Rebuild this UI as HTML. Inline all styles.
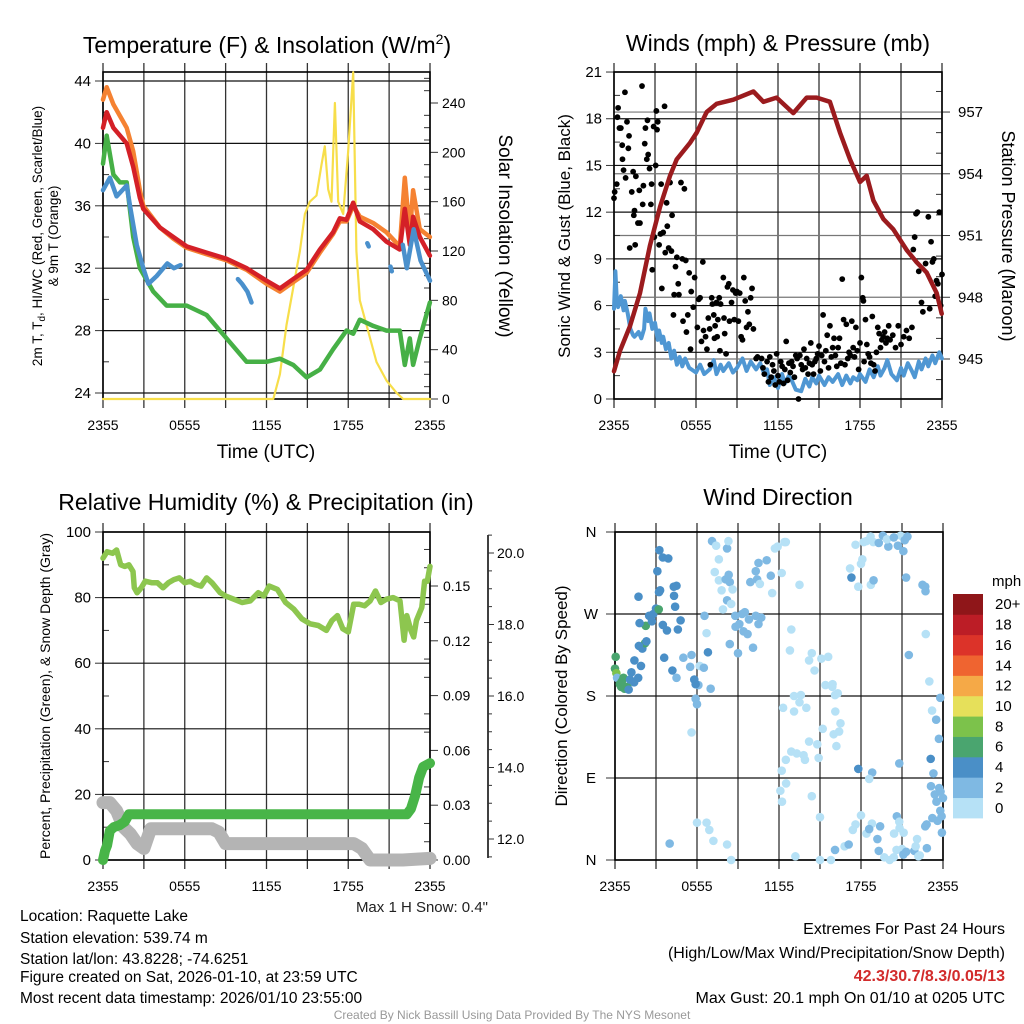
<!DOCTYPE html>
<html><head><meta charset="utf-8">
<style>
html,body{margin:0;padding:0;background:#fff;}
svg{display:block;font-family:"Liberation Sans",Arial,sans-serif;}
</style></head>
<body>
<svg id="fig" xmlns="http://www.w3.org/2000/svg" width="1024" height="1024" viewBox="0 0 1024 1024">
<rect x="0" y="0" width="1024" height="1024" fill="#fff"/>
<g id="p1"></g>
<g id="p2"></g>
<g id="p3"></g>
<g id="p4"></g>

<text x="267" y="53" text-anchor="middle" font-size="23">Temperature (F) &amp; Insolation (W/m<tspan dy="-9" font-size="14">2</tspan><tspan dy="9">)</tspan></text>
<text x="778" y="51" text-anchor="middle" font-size="23">Winds (mph) &amp; Pressure (mb)</text>
<text x="266" y="510" text-anchor="middle" font-size="23">Relative Humidity (%) &amp; Precipitation (in)</text>
<text x="778" y="505" text-anchor="middle" font-size="23">Wind Direction</text>

<text x="266" y="458" text-anchor="middle" font-size="19">Time (UTC)</text>
<text x="778" y="458" text-anchor="middle" font-size="19">Time (UTC)</text>

<text transform="translate(42,236) rotate(-90)" text-anchor="middle" font-size="13.5">2m T, T<tspan dy="3" font-size="10">d</tspan><tspan dy="-3">, HI/WC (Red, Green, Scarlet/Blue)</tspan></text>
<text transform="translate(58,236) rotate(-90)" text-anchor="middle" font-size="13.5">&amp; 9m T (Orange)</text>
<text transform="translate(499,236) rotate(90)" text-anchor="middle" font-size="19">Solar Insolation (Yellow)</text>
<text transform="translate(570,236) rotate(-90)" text-anchor="middle" font-size="17">Sonic Wind &amp; Gust (Blue, Black)</text>
<text transform="translate(1002,236) rotate(90)" text-anchor="middle" font-size="18">Station Pressure (Maroon)</text>
<text transform="translate(50,696) rotate(-90)" text-anchor="middle" font-size="14">Percent, Precipitation (Green), &amp; Snow Depth (Gray)</text>
<text transform="translate(567,696) rotate(-90)" text-anchor="middle" font-size="17">Direction (Colored By Speed)</text>

<text x="488" y="912" text-anchor="end" font-size="15" fill="#222">Max 1 H Snow: 0.4"</text>

<g font-size="15.5">
<text x="20" y="921">Location: Raquette Lake</text>
<text x="20" y="943">Station elevation: 539.74 m</text>
<text x="20" y="964">Station lat/lon: 43.8228; -74.6251</text>
<text x="20" y="982">Figure created on Sat, 2026-01-10, at 23:59 UTC</text>
<text x="20" y="1003">Most recent data timestamp: 2026/01/10 23:55:00</text>
</g>
<g font-size="16" text-anchor="end">
<text x="1005" y="934">Extremes For Past 24 Hours</text>
<text x="1005" y="958">(High/Low/Max Wind/Precipitation/Snow Depth)</text>
<text x="1005" y="981" fill="#d22b2b" font-weight="bold">42.3/30.7/8.3/0.05/13</text>
<text x="1005" y="1003">Max Gust: 20.1 mph On 01/10 at 0205 UTC</text>
</g>
<text x="512" y="1019" text-anchor="middle" font-size="12" fill="#999">Created By Nick Bassill Using Data Provided By The NYS Mesonet</text>
</svg>

<script>
// ---------- DATA ----------
const timeLabels = ["2355","0555","1155","1755","2355"];
// Panel 1
const tempT = [0,0.27,0.76,1.74,2.22,2.71,2.96,4.18,5.16,6.14,7.6,9.07,10.54,12.0,12.98,13.96,14.94,15.92,16.89,17.38,17.87,18.36,18.85,19.83,20.81,21.78,22.15,22.52,22.76,23.25,23.99];
const temp2m = [41,42,41,40,38.5,36.5,35.8,34.6,34,33.4,33,32.6,32,31.2,30.7,31.3,31.9,33.2,34.3,35.2,35.1,36.2,35.0,34.5,33.7,33.2,35.8,33.5,35.3,34,32.8];
const temp9m = [42.8,43.6,42.5,41,39.5,37,36,34.6,33.9,33.3,32.9,32.5,31.9,31.0,30.5,31.1,31.7,33.0,34.2,35.0,35.0,36.0,35.3,34.9,34.3,33.4,37.8,34.2,37,34.5,34.0];
const dewT = [0,0.27,0.76,1.25,1.74,2.22,2.71,3.69,4.67,6.14,7.6,9.07,10.54,12.0,12.98,13.96,14.94,15.92,16.89,17.87,18.36,18.85,19.83,20.81,21.78,22.15,22.52,22.76,23.25,23.99];
const dewVals = [38.7,40.5,38,37.5,37.5,34,32,30.5,29.6,29.6,29,27.5,26,26,26.2,25.8,25,25.5,26.8,28,27.8,28.7,28.3,28,28,25.8,27.5,25.8,27.5,29.8];
const wcT = [0,0.51,1.0,1.74,1.98,2.47,2.96,3.33,3.94,4.72,5.2,5.69,6,9.9,10.2,10.6,10.9,11.2,19.4,19.5,19.6,21.1,21.2,21.3,22.0,22.3,22.8,23.3,24.0];
const wcVals = [37,37.8,36.6,37.3,36,33.5,32,31,31.5,32.3,32,32.2,null,31.3,31.0,30.5,29.8,null,33.6,33.4,null,32.1,31.8,null,33.5,32,34.5,32.5,31.2];
const solarT = [0,12.5,12.98,13.47,13.96,14.45,14.82,15.18,15.67,16.04,16.28,16.53,16.77,17.02,17.26,17.63,17.99,18.36,18.6,18.85,19.34,20.07,20.81,21.54,22.03,24];
const solarVals = [0,0,20,60,90,120,150,160,165,190,205,170,160,240,160,150,200,265,120,80,60,30,15,5,0,0];
const tempTicks = [24,28,32,36,40,44];
const solarTicks = [0,40,80,120,160,200,240];
// Panel 2
const presT = [0,0.44,1.17,1.9,2.63,3.37,4.1,4.59,5.56,6.05,6.78,7.51,8.73,10.2,10.93,11.9,13.12,14.1,14.83,15.8,16.54,17.27,18.0,18.49,18.98,19.71,20.44,21.41,22.15,22.88,23.61,23.98];
const presVals = [944.4,945.4,946.6,948.2,950.5,952.4,953.9,954.7,955.5,956.0,957.0,957.4,957.6,958.0,957.5,957.7,956.95,957.7,957.7,957.5,956.0,954.7,953.6,953.9,952.7,951.8,951.3,950.3,949.7,949.2,948.2,947.2];
const windT = [0,0.1,0.2,0.3,0.5,0.7,0.8,1.0,1.2,1.4,1.5,1.8,2.0,2.2,2.3,2.5,2.6,2.8,3.0,3.2,3.3,3.5,3.6,3.8,4.0,4.2,4.4,4.6,4.8,5.0,5.2,5.5,6.0,6.3,6.6,7.0,7.3,7.5,7.8,8.0,8.4,8.7,9.0,9.4,9.7,10.0,10.4,10.7,11.0,11.2,11.4,11.7,12.0,12.3,12.5,12.8,13.0,13.3,13.7,14.0,14.3,14.5,14.8,15.0,15.4,15.7,16.0,16.4,16.7,17.0,17.3,17.5,17.8,18.0,18.4,18.7,19.0,19.3,19.5,19.8,20.0,20.3,20.7,21.0,21.2,21.5,21.8,22.0,22.3,22.5,22.8,23.0,23.3,23.5,23.8,24.0];
const windVals = [5.8,8.2,6.5,5.9,6.6,5.7,6.3,5.5,4.5,4.1,4.0,4.3,3.9,4.5,5.8,5.0,5.5,4.5,4.9,3.8,4.4,3.6,4.0,3.2,3.6,2.6,3.1,2.2,2.7,2.1,2.6,2.0,1.7,2.2,1.6,1.9,2.5,1.6,2.2,1.8,2.3,1.7,2.0,2.6,1.8,2.4,1.9,2.3,1.6,1.9,0.9,1.4,0.7,1.6,1.0,1.5,1.2,0.6,0.5,1.3,0.8,1.4,1.0,1.5,0.9,1.4,1.1,1.6,0.9,1.5,1.0,1.4,1.2,1.6,1.1,1.9,1.4,2.1,1.5,2.0,2.5,1.6,1.2,2.0,1.5,2.3,1.8,1.4,2.4,1.9,2.6,2.1,2.8,2.3,3.0,2.6];
const gustT = [0,0.05,0.2,0.25,0.3,0.4,0.5,0.6,0.62,0.7,0.8,0.85,0.95,1.05,1.1,1.15,1.3,1.4,1.45,1.5,1.55,1.6,1.75,1.85,1.9,2.05,2.1,2.15,2.25,2.3,2.4,2.45,2.5,2.6,2.7,2.75,2.8,2.9,2.95,3.05,3.1,3.15,3.2,3.3,3.4,3.45,3.5,3.6,3.7,3.75,3.85,3.9,4.0,4.1,4.2,4.25,4.35,4.4,4.5,4.6,4.7,4.75,4.9,5.0,5.05,5.15,5.25,5.3,5.4,5.5,5.6,5.65,5.8,5.9,6.1,6.2,6.3,6.4,6.5,6.55,6.7,6.8,6.9,7.0,7.05,7.15,7.2,7.3,7.35,7.4,7.5,7.55,7.6,7.7,7.75,7.8,8.0,8.05,8.1,8.2,8.3,8.4,8.45,8.6,8.7,8.8,8.9,9.0,9.1,9.2,9.3,9.4,9.5,9.6,9.7,9.8,9.9,10.0,10.1,10.2,10.4,10.5,10.8,10.9,11.0,11.2,11.3,11.4,11.5,11.6,11.7,11.8,11.9,12.0,12.1,12.2,12.3,12.4,12.5,12.6,12.7,12.8,12.9,13.0,13.1,13.2,13.3,13.4,13.5,13.6,13.7,13.8,13.9,14.0,14.1,14.2,14.3,14.4,14.5,14.6,14.7,14.8,14.9,15.0,15.1,15.2,15.3,15.4,15.5,15.6,15.7,15.8,15.9,16.0,16.1,16.2,16.3,16.4,16.5,16.6,16.7,16.8,16.9,17.0,17.1,17.2,17.3,17.4,17.5,17.6,17.7,17.8,17.9,18.0,18.1,18.2,18.25,18.3,18.4,18.5,18.6,18.7,18.8,18.9,19.0,19.1,19.2,19.3,19.4,19.5,19.6,19.7,19.8,19.9,20.0,20.1,20.2,20.4,20.6,20.8,21.0,21.2,21.4,21.6,21.8,21.9,22.0,22.1,22.2,22.3,22.5,22.6,22.8,23.0,23.1,23.2,23.3,23.4,23.5,23.6,23.7,23.8,23.9,24.0];
const gustVals = [12.9,13.3,13.8,18.1,18.7,17.4,17.4,16.3,15.4,14.7,19.7,14.2,17.8,16.1,16.9,9.7,13.3,14.6,11.8,12.1,9.9,14.3,11.3,13.4,11.3,20.1,12.5,13.7,16.4,17.4,15.4,17.9,15.7,14.8,12.5,13.8,8.3,17.5,10.4,15.0,18.5,17.3,17.8,9.9,10.6,13.8,7.1,10.7,18.8,9.4,12.6,11.1,9.7,13.9,9.5,11.8,5.4,6.7,8.5,9.1,7.4,6.7,13.9,9.0,5.0,13.5,8.9,4.3,5.4,8.1,3.2,6.9,5.9,7.8,4.6,6.4,6.5,3.7,8.8,4.4,4.0,3.2,5.2,4.5,2.2,6.5,6.1,5.4,3.9,4.7,6.2,4.0,5.1,6.5,3.1,6.1,7.8,5.2,4.2,2.9,7.2,7.4,5.0,6.2,7.0,5.1,6.8,6.9,5.0,6.8,4.0,3.8,7.8,6.3,4.6,5.6,4.8,6.5,7.1,4.5,2.6,2.7,2.6,2.0,1.6,2.4,1.1,2.7,1.4,2.2,1.8,0.9,2.9,1.5,1.1,2.4,2.1,1.0,1.9,3.7,1.2,2.3,1.7,2.4,2.1,1.4,2.8,2.6,0.0,2.8,2.2,1.9,3.2,2.0,2.6,1.6,2.3,3.6,2.2,1.6,2.4,2.6,2.9,3.4,1.8,2.8,5.4,2.4,3.1,4.1,2.0,4.7,2.7,3.3,3.9,2.8,2.1,3.3,3.9,2.3,7.7,5.1,2.2,4.8,2.6,3.0,2.8,5.0,3.3,2.7,4.6,3.1,1.9,3.6,7.8,6.5,6.3,2.4,5.1,3.5,2.9,2.7,2.3,5.3,2.2,1.8,3.0,4.6,4.2,3.3,3.8,4.0,4.3,3.6,3.9,4.7,3.8,4.1,3.3,4.7,3.5,4.0,4.4,3.9,4.6,9.6,10.4,11.9,12.0,8.2,6.2,5.6,8.7,11.7,5.8,10.1,8.8,9.0,6.6,7.6,7.4,12.0,6.0,8.0];
const windTicks = [0,3,6,9,12,15,18,21];
const presTicks = [945,948,951,954,957];
// Panel 3
const rhT = [0,0.3,0.7,1.0,1.3,1.6,1.9,2.2,2.3,2.5,2.8,3.1,3.6,4.0,4.4,4.8,5.2,5.6,6.0,6.4,6.8,7.2,7.6,8.0,8.6,9.0,9.6,10.2,10.8,11.4,11.8,12.2,12.8,13.4,14.0,14.6,15.2,15.8,16.4,16.8,17.2,17.6,18.0,18.4,18.8,19.2,19.6,20.0,20.4,20.8,21.3,21.8,22.1,22.3,22.6,22.8,23.0,23.4,23.6,23.8,24.0];
const rhVals = [92,94,93.5,94.5,90,89.5,90,88,83,81.5,83,85,84.5,84.5,83,84.5,85.5,86,84.5,85,84,83.5,86,84.5,81.5,80.5,79.5,78.5,79,81.5,80.5,83.5,82.5,78.5,76.5,73.5,72,71.5,70,73,74.5,70.5,69.5,78,78,77.5,79,82,78.5,79.5,80,79,67,74.5,70,68,73,77,85,85,89.5];
const precipT = [0,0.15,0.3,0.5,0.8,1.2,1.6,1.9,22.3,22.6,22.9,23.2,23.5,24.0];
const precipVals = [0,0.005,0.008,0.016,0.018,0.019,0.021,0.025,0.025,0.028,0.035,0.045,0.051,0.053];
const snowT = [0,0.5,1.0,1.5,2.0,2.5,3.0,3.5,4.0,8.0,8.5,9.0,9.5,18.4,19.0,19.6,22.0,24.0];
const snowVals = [17.5,17.5,15,10,8,5,3.5,9.5,9.5,9.5,8.5,5,5,5,3.5,0,0,0.5];
const rhTicks = [0,20,40,60,80,100];
const precipTicks = [0,0.03,0.06,0.09,0.12,0.15];
const snowTicks = [12,14,16,18,20];
// Panel 4
const dirT = [0,0.05,0.1,0.15,0.35,0.45,0.5,0.6,0.7,0.62,0.9,1.0,1.1,1.2,1.4,1.42,1.7,1.9,2.0,2.2,2.3,2.25,1.75,1.72,1.8,2.5,2.8,3.0,2.7,3.2,3.22,3.3,3.5,3.8,3.25,3.5,3.9,3.1,4.3,4.5,4.32,4.4,4.8,4.6,3.6,4.2,4.5,5.0,5.6,5.5,6.2,6.1,5.8,5.9,6.5,7.0,6.8,6.55,6.7,5.9,6.0,5.6,6.0,6.7,6.9,7.2,8.2,8.5,4.0,7.1,7.4,8.2,8.3,7.6,7.3,7.6,7.8,8.1,8.2,8.4,8.32,8.6,7.9,8.5,8.8,8.82,8.4,9.1,9.5,9.8,9.4,9.0,9.3,9.7,10.1,10.5,10.7,10.3,9.9,10.3,10.4,10.6,10.5,11.1,11.4,11.7,11.9,12.4,12.5,12.2,11.5,13.5,12.8,12.9,13.1,13.6,13.5,14.2,14.4,14.6,15.1,15.6,15.4,15.9,16.1,16.3,16.12,16.5,16.4,16.0,16.2,15.2,14.8,14.2,13.8,13.3,12.9,12.5,12.2,12.52,12.22,12.1,13.9,14.0,14.9,15.92,13.1,14.4,15.0,12.3,17.2,17.8,17.3,18.0,18.1,17.6,18.4,18.7,18.9,19.3,19.6,20.0,18.2,18.72,18.92,19.9,20.9,20.7,20.4,21.1,21.2,21.4,21.3,22.5,22.7,22.72,21.5,22.74,23.0,23.2,23.5,23.7,23.8,23.1,23.3,23.12,23.4,23.52,23.72,23.82,23.9,23.22,22.7,22.8,23.6,23.92,24.0,23.8,22.82,19.2,18.8,18.4,18.0,17.6,17.4,18.6,19.3,19.7,20.1,20.4,20.6,21.0,21.1,21.3,21.9,22.0,22.3,22.2,20.62,20.8,20.42,21.12,20.82,22.1,19.4,17.8,18.82,18.6,20.8,16.1,16.8,17.1,15.8,15.0,13.2];
const dirVals = [210,223,205,200,193,190,196,191,188,200,190,187,198,206,195,219,200,213,232,238,240,257,235,289,260,268,270,276,262,275,294,296,258,252,340,332,331,317,300,301,290,278,263,253,222,208,200,222,225,212,213,192,198,193,211,188,228,268,249,177,171,140,41,41,33,21,17,0,18,350,345,342,350,330,316,307,296,308,285,305,313,297,275,281,268,256,237,259,272,264,251,227,270,248,233,259,266,268,305,317,308,303,326,329,312,342,344,349,349,315,293,302,230,253,180,181,173,219,227,208,221,223,192,190,181,183,163,150,141,138,125,144,127,130,115,117,119,110,98,84,64,76,110,167,112,193,163,70,47,167,320,300,310,325,330,346,350,355,349,348,356,344,349,302,307,352,356,345,354,339,351,355,310,302,300,295,225,248,196,164,154,133,178,111,95,81,72,64,79,75,48,46,37,39,43,30,68,54,13,23,40,29,49,39,33,34,10,3,0,3,11,12,6,9,10,15,5,4,48,42,29,30,35,23,37,100,96,89,106,11,15,17,0,0,4];
const dirSpd = [7,6,8,3,6,6,6,6,6,6,6,4,4,4,4,4,4,4,4,6,4,6,4,4,4,4,4,4,4,6,4,4,4,4,4,4,4,4,4,4,4,4,4,4,4,4,3,3,3,3,2,3,4,4,3,3,4,3,2,3,3,2,2,2,2,2,2,2,3,3,2,3,2,2,2,2,2,3,3,3,3,2,2,2,3,3,3,3,3,3,3,3,3,3,3,3,3,3,3,3,3,2,3,3,3,2,2,2,2,2,2,2,2,2,2,2,2,2,2,2,2,2,2,2,2,2,2,2,2,2,2,2,2,2,2,2,2,2,2,2,2,2,2,2,2,2,2,2,2,2,2,2,4,2,2,2,2,2,2,3,3,3,2,2,3,2,2,3,3,3,3,3,3,3,3,3,3,2,2,2,3,3,3,4,3,3,3,3,3,3,3,3,3,3,3,3,3,3,3,3,2,2,2,2,2,3,3,2,2,2,2,2,3,3,3,2,2,2,3,2,2,2,2,2,3,4,3,2,3,3,2,3,2,2,2,2];
const dirLabels = ["N","E","S","W","N"];
const dirTicks = [0,90,180,270,360];
const speedLabels = ["0","2","4","6","8","10","12","14","16","18","20+"];
const speedColors = ["#b6e1f6","#7fb9e3","#4a8fc7","#4aa56f","#7cc24b","#e6e05a","#f5a947","#ef6430","#dc3329","#bc1d26","#8f1619"];

// ---------- HELPERS ----------
const NS = "http://www.w3.org/2000/svg";
function el(tag, attrs, parent){
  const e = document.createElementNS(NS, tag);
  for (const k in attrs) e.setAttribute(k, attrs[k]);
  parent.appendChild(e);
  return e;
}
function pathFrom(xs, ys, xf, yf){
  let d = "", pen = false;
  for (let i=0;i<xs.length;i++){
    if (ys[i]===null){ pen=false; continue; }
    d += (pen?"L":"M") + xf(xs[i]).toFixed(1) + "," + yf(ys[i]).toFixed(1);
    pen = true;
  }
  return d;
}
function timeAxis(g, x0, x1, yTop, yBot, name){
  const xf = t => x0 + (x1-x0)*t/24;
  for (let h=0; h<=24; h+=3){
    const ln = el("line",{x1:xf(h),x2:xf(h),y1:yTop-9,y2:yBot+9,stroke:"#333","stroke-width":1.3},g);
    
    
  }
  for (let i=0;i<timeLabels.length;i++){
    const tx = el("text",{x:xf(i*6),y:yBot+31,"text-anchor":"middle","font-size":14},g);
    tx.textContent = timeLabels[i];
    
    
  }
  return xf;
}
function frame(g, x0, x1, y0, y1, name){
  const r = el("rect",{x:x0,y:y0,width:x1-x0,height:y1-y0,fill:"none",stroke:"#000","stroke-width":1.6},g);
  
  
}
function hTick(g, x, y, len, name, grid, gx0, gx1, color){
  if (grid){
    const l = el("line",{x1:gx0,x2:gx1,y1:y,y2:y,stroke:color||"#111","stroke-width":1.2},g);
    
    
  }
  const t = el("line",{x1:x,x2:x+len,y1:y,y2:y,stroke:"#333","stroke-width":1},g);
  
  
}
function label(g, x, y, txt, anchor, name, size){
  const t = el("text",{x:x,y:y+5,"text-anchor":anchor,"font-size":size||14},g);
  t.textContent = txt;
  
  
}
function line(g, d, color, w, name){
  const p = el("path",{d:d,fill:"none",stroke:color,"stroke-width":w,"stroke-linejoin":"round","stroke-linecap":"round"},g);
  
  
}

// ---------- PANEL 1 ----------
(function(){
  const g = document.getElementById("p1");
  const X0=103,X1=430,Y0=72,Y1=399;
  const yT = v => 393 - (v-24)*15.6;
  const yS = v => 399 - v*1.2333;
  const xf = timeAxis(g,X0,X1,Y0,Y1,"p1");
  for (let v=26; v<=44; v+=2){ if (v%4) hTick(g,X0,yT(v),6,"p1-minor",false); }
  tempTicks.forEach(v=>{ hTick(g,X0-8,yT(v),8,"p1-left",true,X0,X1); label(g,X0-12,yT(v),String(v),"end","p1-y-tick-label",15); });
  for (let v=10; v<=260; v+=10){ if (v%40) hTick(g,X1-6,yS(v),6,"p1-right-minor",false); }
  solarTicks.forEach(v=>{ hTick(g,X1,yS(v),8,"p1-right",false); label(g,X1+12,yS(v),String(v),"start","p1-right-tick-label",14); });
  frame(g,X0,X1,Y0,Y1,"p1");
  line(g,pathFrom(solarT,solarVals,xf,yS),"#f7de4a",2.2,"solar-insolation-line");
  line(g,pathFrom(dewT,dewVals,xf,yT),"#46b046",4.5,"dewpoint-line");
  line(g,pathFrom(tempT,temp9m,xf,yT),"#f58232",4.5,"temp-9m-line");
  line(g,pathFrom(tempT,temp2m,xf,yT),"#d42027",4.5,"temp-2m-line");
  line(g,pathFrom(wcT,wcVals,xf,yT),"#4a90cc",4.5,"wind-chill-line");
})();

// ---------- PANEL 2 ----------
(function(){
  const g = document.getElementById("p2");
  const X0=614,X1=942,Y0=72,Y1=399;
  const yW = v => 399 - v*15.57;
  const yP = v => 359 - (v-945)*20.58;
  const xf = timeAxis(g,X0,X1,Y0,Y1,"p2");
  presTicks.forEach(v=>{ hTick(g,X1,yP(v),8,"p2-right",true,X0,X1,"#777"); label(g,X1+16,yP(v),String(v),"start","p2-right-tick-label",15); });
  for (let v=943; v<=960; v++){ if ((v-945)%3 && yP(v)>Y0 && yP(v)<Y1) hTick(g,X1-6,yP(v),6,"p2-right-minor",false); }
  windTicks.forEach(v=>{ hTick(g,X0-8,yW(v),8,"p2-left",true,X0,X1); label(g,X0-12,yW(v),String(v),"end","p2-y-tick-label",15); });
  for (let v=1.5; v<21; v+=3) hTick(g,X0,yW(v),6,"p2-minor",false);
  frame(g,X0,X1,Y0,Y1,"p2");
  line(g,pathFrom(windT,windVals,xf,yW),"#4f97d3",4,"sonic-wind-line");
  for (let i=0;i<gustT.length;i++){
    const c = el("circle",{cx:xf(gustT[i]),cy:yW(gustVals[i]),r:2.9,fill:"#000"},g);
    
    
  }
  line(g,pathFrom(presT,presVals,xf,yP),"#9b1b1e",4.5,"pressure-line");
})();

// ---------- PANEL 3 ----------
(function(){
  const g = document.getElementById("p3");
  const X0=103,X1=430,Y0=532,Y1=860;
  const yR = v => 860 - v*3.28;
  const yPr = v => 860 - v/0.03*54.8;
  const ySn = v => 839 - (v-12)*35.75;
  const xf = timeAxis(g,X0,X1,Y0,Y1,"p3");
  rhTicks.forEach(v=>{ hTick(g,X0-8,yR(v),8,"p3-left",true,X0,X1); label(g,X0-12,yR(v),String(v),"end","p3-y-tick-label",15); });
  for (let v=10; v<100; v+=20) hTick(g,X0,yR(v),6,"p3-minor",false);
  precipTicks.forEach(v=>{ hTick(g,X1,yPr(v),8,"p3-precip",false); label(g,X1+13,yPr(v),v.toFixed(2),"start","p3-precip-tick-label",14); });
  for (let v=0.01; v<0.18; v+=0.01){ if (Math.round(v*100)%3 && yPr(v)>Y0) hTick(g,X1-6,yPr(v),6,"p3-precip-minor",false); }
  const ax = el("line",{x1:488,x2:488,y1:535,y2:858,stroke:"#000","stroke-width":1.5},g);
  
  
  snowTicks.forEach(v=>{ hTick(g,488,ySn(v),6,"p3-snow",false); label(g,497,ySn(v),v.toFixed(1),"start","p3-snow-tick-label",14); });
  for (let v=11.5; v<20.6; v+=0.5){ if (v%2) hTick(g,488,ySn(v),4,"p3-snow-minor",false); }
  frame(g,X0,X1,Y0,Y1,"p3");
  line(g,pathFrom(rhT,rhVals,xf,yR),"#8dc64f",5.5,"relative-humidity-line");
  line(g,pathFrom(snowT,snowVals,xf,yR),"#b4b4b4",13,"snow-depth-line");
  line(g,pathFrom(precipT,precipVals,xf,yPr),"#48b548",10,"precipitation-line");
})();

// ---------- PANEL 4 ----------
(function(){
  const g = document.getElementById("p4");
  const X0=615,X1=943,Y0=532,Y1=860;
  const yD = v => 860 - v/360*328;
  const xf = timeAxis(g,X0,X1,Y0,Y1,"p4");
  dirTicks.forEach((v,i)=>{ hTick(g,X0-9,yD(v),9,"p4-left",true,X0,X1); label(g,591,yD(v),dirLabels[i],"middle","p4-y-tick-label",15); });
  frame(g,X0,X1,Y0,Y1,"p4");
  for (let i=0;i<dirT.length;i++){
    const s = dirSpd[i];
    const idx = s<=2 ? 0 : Math.min(10, Math.floor(s/2));
    const c = el("circle",{cx:xf(dirT[i]),cy:yD(dirVals[i]),r:4.3,fill:speedColors[idx]},g);
    
    
  }
  const bh = 224/speedColors.length;
  for (let i=0;i<speedColors.length;i++){
    const top = 818 - (i+1)*bh;
    const r = el("rect",{x:953,y:top,width:30,height:bh+0.4,fill:speedColors[i]},g);
    
    
    label(g,995,top+bh/2,speedLabels[i],"start","colorbar-label",15);
  }
  label(g,992,581,"mph","start","colorbar-unit",15);
})();
</script>
</body></html>
